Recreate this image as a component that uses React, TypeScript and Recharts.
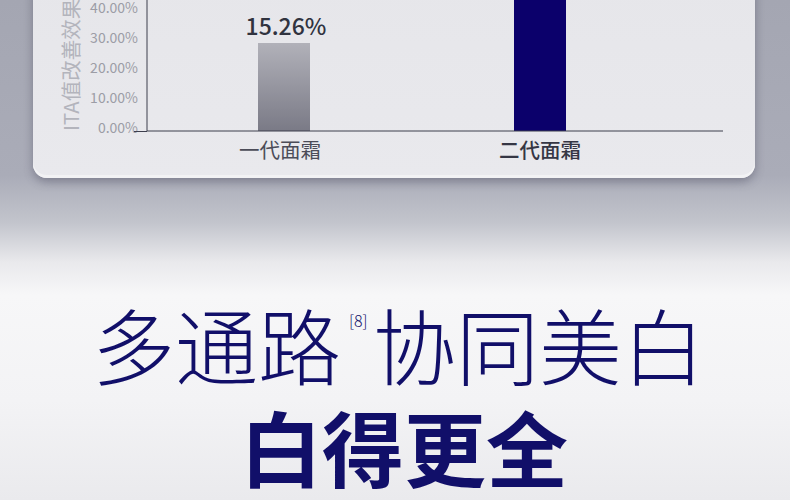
import React from "react";
import { BarChart, Bar, XAxis, YAxis, Cell, LabelList, Label } from "recharts";

const products = ["一代面霜", "二代面霜"];
// bar heights read against the printed axis; the second bar runs off the top of the crop
const improvement = [29.3, 50];
const valueLabels = ["15.26%", ""];
const yTicks = [0, 10, 20, 30, 40, 50];
const barColors = ["url(#genOneFill)", "#0b006b"];

const data = products.map((name, i) => ({ name, value: improvement[i], label: valueLabels[i] }));

const FONT = '"Noto Sans CJK SC", "Noto Sans", sans-serif';
const NAVY = "#110f69";
const AXIS = "#3d3f4d";

const YTick = ({ x, y, payload }: any) => (
  <text x={x - 9} y={y + 2} textAnchor="end" fontSize={14} fill="#9c9da6" fontFamily={FONT}>
    {payload.value.toFixed(2)}%
  </text>
);

const XTick = ({ x, y, payload, index }: any) => (
  <text
    x={index === 0 ? x - 4 : x}
    y={y + 27}
    textAnchor="middle"
    fontSize={20.5}
    fontWeight={index === 1 ? 500 : 400}
    fill={index === 1 ? "#353644" : "#4b4c58"}
    fontFamily={FONT}
  >
    {payload.value}
  </text>
);

const ValueLabel = ({ x, y, width, value }: any) =>
  value ? (
    <text x={x + width / 2 + 2} y={y - 8} textAnchor="middle" fontSize={23} fontWeight={500} fill="#30333f" fontFamily={FONT}>
      {value}
    </text>
  ) : null;

const AxisTitle = () => (
  <text x={79} y={171} transform="rotate(-90 79 171)" textAnchor="start" fontSize={20.5} fill="#b3b4bc" fontFamily={FONT}>
    ITA值改善效果
  </text>
);

export default function App() {
  return (
    <div
      style={{
        position: "fixed",
        left: 0,
        top: 0,
        width: 790,
        height: 500,
        overflow: "hidden",
        fontFamily: FONT,
        background:
          "linear-gradient(to bottom, #a4a6b2 0px, #aaacb8 175px, #c2c4cc 222px, #e9e9ec 262px, #f7f7f8 295px, #f3f3f5 400px, #eaeaed 500px)",
      }}
    >
      <div
        style={{
          position: "absolute",
          left: 33,
          top: -20,
          width: 722,
          height: 198,
          borderRadius: 14,
          background: "linear-gradient(to bottom, #e6e6ea, #e9e9ed)",
          boxShadow: "inset 0 -3px 0 #f2f2f4, 0 4px 10px rgba(70,72,92,0.45)",
        }}
      />
      <div style={{ position: "absolute", left: 0, top: -40, width: 790, height: 220 }}>
        <BarChart width={790} height={220} data={data} margin={{ top: 21, right: 67, left: 0, bottom: 0 }}>
          <defs>
            <linearGradient id="genOneFill" x1="0" y1="0" x2="0" y2="1">
              <stop offset="0%" stopColor="#b1b1b9" />
              <stop offset="100%" stopColor="#7a7a86" />
            </linearGradient>
          </defs>
          <XAxis
            dataKey="name"
            height={49}
            padding={{ left: 9, right: 55 }}
            tickSize={0}
            tickMargin={0}
            tickLine={false}
            axisLine={{ stroke: AXIS, strokeWidth: 1 }}
            tick={<XTick />}
          />
          <YAxis
            width={147}
            domain={[0, 50]}
            ticks={yTicks}
            tickSize={0}
            tickMargin={0}
            tickLine={false}
            axisLine={{ stroke: AXIS, strokeWidth: 1 }}
            tick={<YTick />}
          >
            <Label content={<AxisTitle />} />
          </YAxis>
          <Bar dataKey="value" barSize={52} isAnimationActive={false}>
            {data.map((d, i) => (
              <Cell key={d.name} fill={barColors[i]} />
            ))}
            <LabelList dataKey="label" content={<ValueLabel />} />
          </Bar>
        </BarChart>
        {/* the baseline pokes a little past the y axis on the left */}
        <div style={{ position: "absolute", left: 134, top: 170.5, width: 13, height: 1, background: AXIS }} />
      </div>

      <div style={{ position: "absolute", left: 0, top: 0, width: 790, height: 500, color: NAVY }}>
        <span style={{ position: "absolute", left: 92, top: 302, fontSize: 83, lineHeight: 1, fontWeight: 300 }}>
          多通路
        </span>
        <span style={{ position: "absolute", left: 349, top: 312, fontSize: 16, lineHeight: 1, fontWeight: 300 }}>[8]</span>
        <span style={{ position: "absolute", left: 373, top: 302, fontSize: 83, lineHeight: 1, fontWeight: 300 }}>
          协同美白
        </span>
        <span style={{ position: "absolute", left: 240, top: 405, fontSize: 82, lineHeight: 1, fontWeight: 700 }}>
          白得更全
        </span>
      </div>
    </div>
  );
}
